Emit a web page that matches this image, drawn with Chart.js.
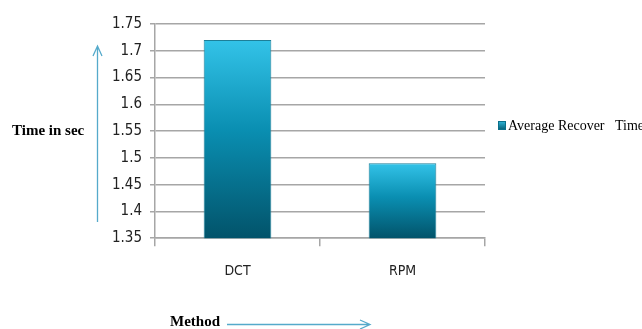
<!DOCTYPE html>
<html>
<head>
  <meta charset="utf-8">
  <script src="https://cdn.jsdelivr.net/npm/chart.js"></script>
  <style>
    body { margin: 0; background: #fff; }
    .chart-box { width: 642px; height: 329px; }
  </style>
</head>
<body>
  <div class="chart-box">
    <canvas id="myBarChart"></canvas>
  </div>
<script>
"use strict";
// chart data
const methods = ['DCT', 'RPM'];
const recoverTime = [1.72, 1.49];
const seriesName = 'Average Recover   Time';
const yTitle = 'Time in sec';
const xTitle = 'Method';

const arrowBlue = '#55aacb';

// per-bar gradient, light on top and dark at the base
const barFill = function(context) {
  const chart = context.chart;
  const area = chart.chartArea;
  if (!area || context.type !== 'data') return '#1a9fc4';
  const top = chart.scales.y.getPixelForValue(context.raw);
  const g = chart.ctx.createLinearGradient(0, top, 0, area.bottom);
  g.addColorStop(0, '#33c3e8');
  g.addColorStop(0.45, '#0a8fb2');
  g.addColorStop(1, '#02536a');
  return g;
};

// axis titles, arrows and the legend entry
const decorations = {
  id: 'decorations',
  afterDraw(chart) {
    const c = chart.ctx;
    c.save();
    c.fillStyle = '#000';
    c.font = 'bold 15px "Liberation Serif", serif';
    c.textBaseline = 'middle';
    c.fillText(yTitle, 12, 131);
    c.fillText(xTitle, 170, 322);

    c.strokeStyle = arrowBlue;
    c.lineWidth = 1.3;
    c.beginPath();
    // vertical arrow
    c.moveTo(97.5, 222); c.lineTo(97.5, 46);
    c.moveTo(93, 56); c.lineTo(97.5, 46); c.lineTo(102, 56);
    // horizontal arrow
    c.moveTo(227, 324.5); c.lineTo(370, 324.5);
    c.moveTo(360, 320); c.lineTo(370, 324.5); c.lineTo(360, 329);
    c.stroke();

    // legend
    const g = c.createLinearGradient(0, 121, 0, 130);
    g.addColorStop(0, '#2fb8dc');
    g.addColorStop(1, '#035a70');
    c.fillStyle = g;
    c.fillRect(498, 121, 8, 9);
    c.strokeStyle = '#0b6f8a';
    c.lineWidth = 1;
    c.strokeRect(498.5, 121.5, 7, 8);
    c.fillStyle = '#000';
    c.font = '14px "Liberation Serif", serif';
    c.fillText(seriesName, 508, 126);
    c.restore();
  }
};

const chart = new Chart(document.getElementById('myBarChart'), {
  type: 'bar',
  data: {
    labels: methods,
    datasets: [{
      label: seriesName,
      data: recoverTime,
      backgroundColor: barFill,
      borderColor: '#1d7f98',
      borderWidth: 1,
      categoryPercentage: 1,
      barPercentage: 0.41
    }]
  },
  options: {
    responsive: true,
    maintainAspectRatio: false,
    animation: false,
    layout: { padding: { left: 100, top: 24, bottom: 32, right: 157 } },
    plugins: {
      tooltip: { enabled: false },
      legend: { display: false }
    },
    scales: {
      x: {
        offset: true,
        grid: {
          offset: true,
          drawOnChartArea: false,
          tickLength: 8,
          color: '#a6a6a6',
          lineWidth: 1.5
        },
        border: { color: '#a6a6a6', width: 1.5 },
        ticks: {
          padding: 17,
          color: '#222',
          font: { family: '"Liberation Sans Narrow", "DejaVu Sans Condensed", sans-serif', size: 14 }
        }
      },
      y: {
        min: 1.35,
        max: 1.75,
        afterFit: function(scale) { scale.width = 55; },
        grid: { color: '#a6a6a6', lineWidth: 1.5, tickLength: 5 },
        border: { color: '#a6a6a6', width: 1.5 },
        ticks: {
          stepSize: 0.05,
          padding: 8,
          color: '#222',
          font: { family: '"Liberation Sans Narrow", "DejaVu Sans Condensed", sans-serif', size: 15 },
          callback: function(v) { return String(Number(v.toFixed(2))); }
        }
      }
    }
  },
  plugins: [decorations]
});
</script>
</body>
</html>
